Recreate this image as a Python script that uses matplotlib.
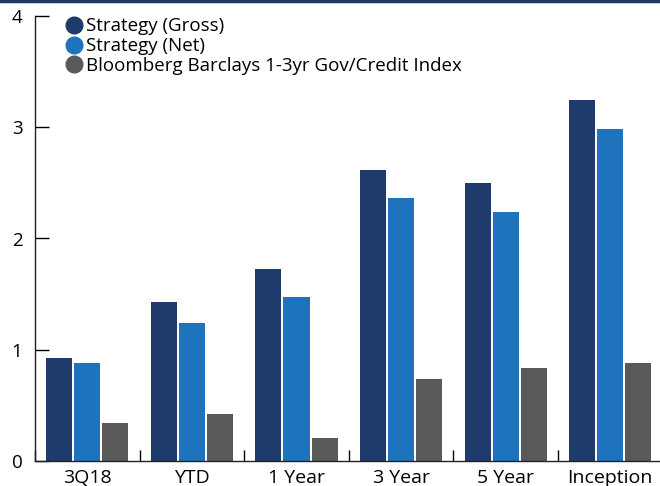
import numpy as np
import matplotlib.pyplot as plt
from matplotlib.lines import Line2D

plt.rcParams['font.family'] = ['Open Sans', 'DejaVu Sans']

periods = ["3Q18", "YTD", "1 Year", "3 Year", "5 Year", "Inception"]
gross = [0.93, 1.43, 1.73, 2.62, 2.50, 3.245]
net = [0.88, 1.24, 1.47, 2.36, 2.24, 2.98]
index = [0.34, 0.42, 0.21, 0.74, 0.84, 0.88]
names = ["Strategy (Gross)", "Strategy (Net)", "Bloomberg Barclays 1-3yr Gov/Credit Index"]
colors = ["#1f3b6c", "#1e73be", "#595959"]

fig = plt.figure(figsize=(6.6, 4.86), dpi=100)
# axes runs off the right edge like the original
ax = fig.add_axes([35/660, 25/486, 627.6/660, 445/486])

x = np.arange(len(periods))
w = 0.249
off = 0.268
for i, (vals, c) in enumerate(zip([gross, net, index], colors)):
    ax.bar(x + (i - 1) * off, vals, width=w, color=c)

ax.set_xlim(-0.5, len(periods) - 0.5)
ax.set_ylim(0, 4)
ax.set_yticks([0, 1, 2, 3, 4])
ax.set_xticks(x)
ax.set_xticklabels(periods, fontsize=14)
ax.tick_params(axis='x', length=0, pad=6)
ax.tick_params(axis='y', direction='in', length=10, width=1, labelsize=13.5, pad=9)
ax.set_xticks(np.arange(len(periods) + 1) - 0.5, minor=True)
ax.tick_params(axis='x', which='minor', direction='in', length=8, width=1)

for s in ['top', 'right']:
    ax.spines[s].set_visible(False)
for s in ['left', 'bottom']:
    ax.spines[s].set_color('#222222')
    ax.spines[s].set_linewidth(1)

handles = [Line2D([], [], marker='o', ls='', markersize=12, color=c) for c in colors]
ax.legend(handles, names, loc='upper left', bbox_to_anchor=(0.02, 1.035), frameon=False,
          fontsize=13.5, handletextpad=0.15, labelspacing=0.1, handlelength=1.0)

# dark rule along the top
fig.add_artist(Line2D([0, 1], [0.997, 0.997], color='#1f3864', lw=2.5, transform=fig.transFigure))

fig.savefig("out.png", dpi=100)
